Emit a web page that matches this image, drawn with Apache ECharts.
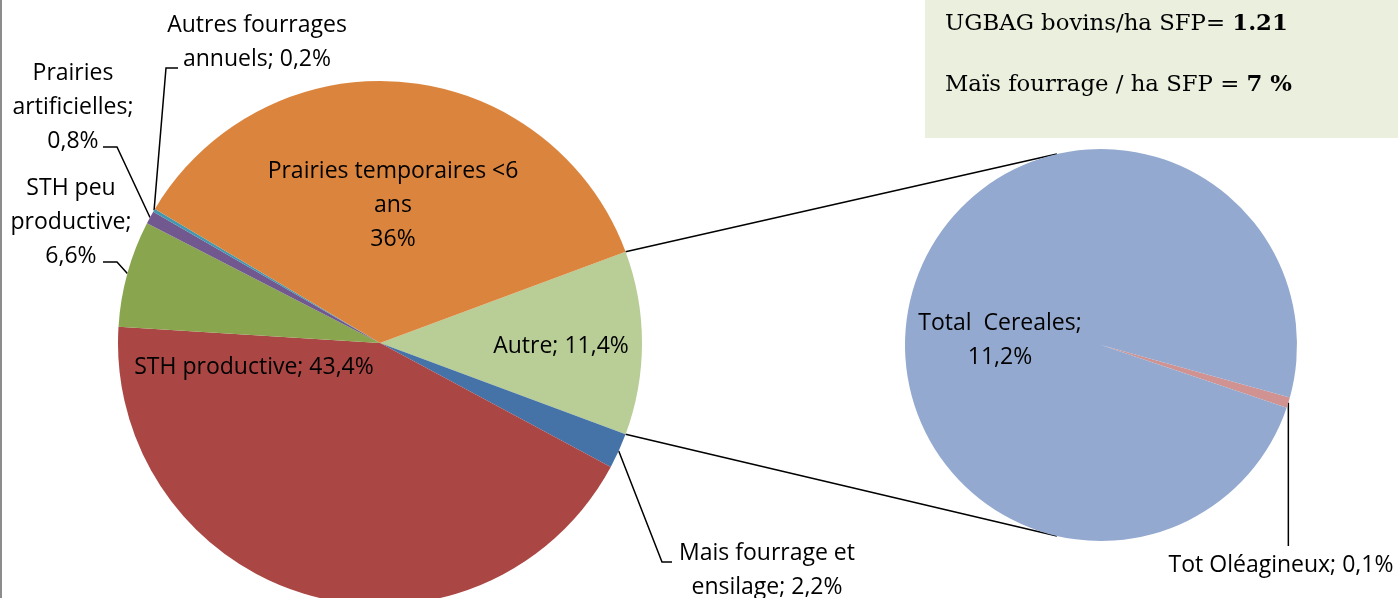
<!DOCTYPE html>
<html>
<head>
<meta charset="utf-8">
<title>SFP</title>
<script src="https://cdn.jsdelivr.net/npm/echarts@6/dist/echarts.min.js"></script>
<style>
body{margin:0;background:#fff;}
#main{width:1398px;height:598px;}
</style>
</head>
<body>
<div id="main"></div>
<script>
// camembert principal, dans le sens horaire a partir de la part eclatee (Autre)
var mainNames = ['Autre', 'Mais fourrage et ensilage', 'STH productive', 'STH peu productive', 'Prairies artificielles', 'Autres fourrages annuels', 'Prairies temporaires <6 ans'];
var mainValues = [11.4, 2.2, 43.4, 6.6, 0.8, 0.2, 36];
var mainLabels = ['Autre; 11,4%', 'Mais fourrage et\nensilage; 2,2%', 'STH productive; 43,4%', 'STH peu\nproductive;\n6,6%', 'Prairies\nartificielles;\n0,8%', 'Autres fourrages\nannuels; 0,2%', 'Prairies temporaires <6\nans\n36%'];
var mainColors = ['#B9CD96', '#4572A7', '#AA4643', '#89A54E', '#71588F', '#4198AF', '#DB843D'];

// second camembert (detail de Autre)
var subNames = ['Tot Oléagineux', 'Total  Cereales'];
var subValues = [0.1, 11.2];
var subLabels = ['Tot Oléagineux; 0,1%', 'Total  Cereales;\n11,2%'];
var subColors = ['#D19392', '#93A9CF'];

// mise en page
var C1 = [380, 343], R1 = 262;
var C2 = [1101, 345], R2 = 196;
var mainInside = [true, false, true, false, false, false, true];
var mainLabelPos = [[561, 346], [767, 570], [254, 367], [71, 222], [73, 107], [257, 42], [393, 205]];
var mainBends = [null, [[662, 562], [672, 562]], null, [[117, 262], [103, 262]], [[117, 147], [103, 147]], [[166, 68], [178, 68]], null];
var subLabelPos = [[1281, 565], [1000, 340]];

var total = mainValues.reduce(function (a, b) { return a + b; }, 0);
var half = mainValues[0] / total * 180;   // demi-angle de la part Autre
var subStart = -15.5;

var labelFont = {fontFamily: 'Open Sans', fontSize: 23, color: '#000', lineHeight: 34};
var lineStyle = {color: '#000', width: 1.5};
var serif = {fontFamily: 'DejaVu Serif', fontSize: 22.8, color: '#000', fontWeight: 'normal'};

function mkData(names, values, colors, labels, inside) {
	return names.map(function (n, i) {
		return {
			name: n,
			value: values[i],
			itemStyle: {color: colors[i]},
			label: Object.assign({show: true, position: inside[i] ? 'inside' : 'outside', formatter: labels[i]}, labelFont),
			labelLine: {show: !inside[i], lineStyle: lineStyle}
		};
	});
}

function pt(c, r, deg) {
	var a = deg * Math.PI / 180;
	return [c[0] + r * Math.cos(a), c[1] - r * Math.sin(a)];
}

var pA = pt(C1, R1, half), pB = pt(C1, R1, -half);
var qA = pt(C2, R2, 103), qB = pt(C2, R2, -103);

var myChart = echarts.init(document.getElementById('main'));
var option = {
	animation: false,
	backgroundColor: '#fff',
	title: [{
		text: '{n|UGBAG bovins/ha SFP= }{b|1.21}',
		left: 940, top: 8,
		textStyle: {fontWeight: 'normal', rich: {n: serif, b: Object.assign({}, serif, {fontWeight: 'bold'})}}
	}, {
		text: '{n|Maïs fourrage / ha SFP = }{b|7 %}',
		left: 940, top: 69,
		textStyle: {fontWeight: 'normal', rich: {n: serif, b: Object.assign({}, serif, {fontWeight: 'bold'})}}
	}],
	graphic: [
		{type: 'rect', left: 925, top: 0, z: -1, shape: {width: 473, height: 138}, style: {fill: '#EBEFDE'}},
		{type: 'line', shape: {x1: 1, y1: 0, x2: 1, y2: 598}, style: {stroke: '#8C8C8C', lineWidth: 2}},
		{type: 'line', shape: {x1: pA[0], y1: pA[1], x2: qA[0], y2: qA[1]}, style: {stroke: '#000', lineWidth: 1.5}},
		{type: 'line', shape: {x1: pB[0], y1: pB[1], x2: qB[0], y2: qB[1]}, style: {stroke: '#000', lineWidth: 1.5}}
	],
	series: [{
		type: 'pie',
		center: C1,
		radius: R1,
		startAngle: half,
		clockwise: true,
		avoidLabelOverlap: false,
		silent: true,
		data: mkData(mainNames, mainValues, mainColors, mainLabels, mainInside),
		labelLayout: function (params) {
			var i = params.dataIndex;
			var o = {x: mainLabelPos[i][0], y: mainLabelPos[i][1], align: 'center', verticalAlign: 'middle'};
			if (mainBends[i] && params.labelLinePoints) {
				o.labelLinePoints = [params.labelLinePoints[0]].concat(mainBends[i]);
			}
			return o;
		}
	}, {
		type: 'pie',
		center: C2,
		radius: R2,
		startAngle: subStart,
		clockwise: true,
		avoidLabelOverlap: false,
		silent: true,
		data: mkData(subNames, subValues, subColors, subLabels, [false, true]),
		labelLayout: function (params) {
			var i = params.dataIndex;
			var o = {x: subLabelPos[i][0], y: subLabelPos[i][1], align: 'center', verticalAlign: 'middle'};
			if (i === 0 && params.labelLinePoints) {
				var p0 = params.labelLinePoints[0];
				o.labelLinePoints = [p0, [p0[0], 546], [p0[0], 546]];
			}
			return o;
		}
	}]
};
myChart.setOption(option);
</script>
</body>
</html>
